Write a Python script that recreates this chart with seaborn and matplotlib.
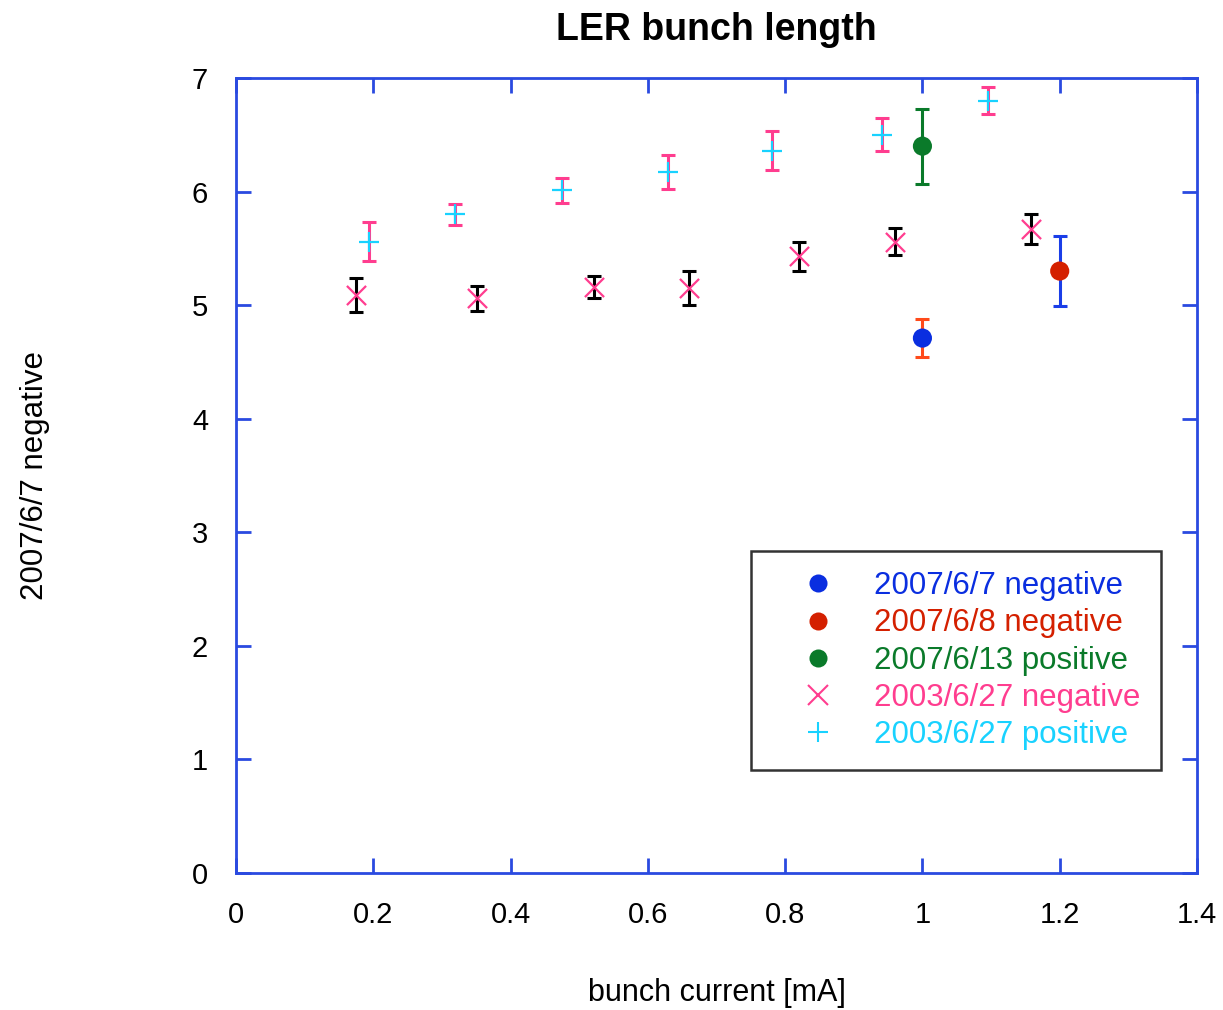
import numpy as np
import pandas as pd
import matplotlib
matplotlib.use("Agg")
import matplotlib.pyplot as plt
import seaborn as sns
from matplotlib.lines import Line2D

# 2007 measurements (single points)
neg_0607_x = [1.0]
neg_0607_y = [4.71]
neg_0607_err = [0.17]

neg_0608_x = [1.2]
neg_0608_y = [5.30]
neg_0608_err = [0.31]

pos_0613_x = [1.0]
pos_0613_y = [6.40]
pos_0613_err = [0.33]

# 2003/6/27 scans
neg_2003_x = [0.175, 0.351, 0.522, 0.660, 0.820, 0.960, 1.158]
neg_2003_y = [5.09, 5.06, 5.16, 5.15, 5.43, 5.56, 5.67]
neg_2003_err = [0.15, 0.11, 0.10, 0.15, 0.13, 0.12, 0.13]

pos_2003_x = [0.194, 0.319, 0.475, 0.630, 0.781, 0.941, 1.096]
pos_2003_y = [5.56, 5.80, 6.01, 6.17, 6.36, 6.50, 6.80]
pos_2003_err = [0.17, 0.09, 0.11, 0.15, 0.17, 0.145, 0.12]

labels = ["2007/6/7 negative", "2007/6/8 negative", "2007/6/13 positive",
          "2003/6/27 negative", "2003/6/27 positive"]
colors = ["#0a2ee0", "#d42000", "#0a7a2a", "#ff3d8f", "#19d2ff"]
err_colors = ["#ff4a1a", "#1a3ee8", "#0a7a2a", "#000000", "#ff3d8f"]
markers = ["o", "o", "o", "x", "+"]
xtick_labels = ["0", "0.2", "0.4", "0.6", "0.8", "1", "1.2", "1.4"]

sets = [
    (neg_0607_x, neg_0607_y, neg_0607_err),
    (neg_0608_x, neg_0608_y, neg_0608_err),
    (pos_0613_x, pos_0613_y, pos_0613_err),
    (neg_2003_x, neg_2003_y, neg_2003_err),
    (pos_2003_x, pos_2003_y, pos_2003_err),
]

frames = []
for lab, (xs, ys, es) in zip(labels, sets):
    frames.append(pd.DataFrame({"current": xs, "length": ys, "err": es, "series": lab}))
df = pd.concat(frames, ignore_index=True)

sns.set_theme(style="white")
plt.rcParams["font.family"] = ["Liberation Sans", "DejaVu Sans"]
plt.rcParams["text.color"] = "black"
plt.rcParams["axes.labelcolor"] = "black"

fig = plt.figure(figsize=(12.23, 10.10), dpi=100)
ax = fig.add_axes([236 / 1223, 137 / 1010, 961 / 1223, 795 / 1010])

sizes = [190, 190, 190, 190, 210]
for lab, col, ecol, mk, sz in zip(labels, colors, err_colors, markers, sizes):
    sub = df[df["series"] == lab]
    ax.errorbar(sub["current"], sub["length"], yerr=sub["err"], fmt="none",
                ecolor=ecol, elinewidth=2.2, capsize=5.2, capthick=2.2, zorder=2)
    kw = dict(edgecolor="none") if mk == "o" else dict(linewidth=1.6)
    sns.scatterplot(data=sub, x="current", y="length", marker=mk, color=col,
                    s=sz, ax=ax, legend=False, zorder=3, **kw)

ax.set_xlim(0, 1.4)
ax.set_ylim(0, 7)
ax.set_xticks(np.arange(0, 1.41, 0.2))
ax.set_xticklabels(xtick_labels)
ax.set_yticks(range(0, 8))

spine_col = "#2a4ae0"
for sp in ax.spines.values():
    sp.set_color(spine_col)
    sp.set_linewidth(2)
ax.tick_params(axis="both", which="both", direction="in", length=11, width=2,
               color=spine_col, bottom=True, left=True, top=True, right=True,
               labelsize=21, labelcolor="black", pad=20)

ax.set_xlabel("bunch current [mA]", fontsize=22)
ax.xaxis.set_label_coords(0.5, -0.151)
ax.xaxis.label.set_va("center")
ax.set_ylabel("2007/6/7 negative", fontsize=22.5)
ax.yaxis.set_label_coords(-0.209, 0.5)
ax.yaxis.label.set_va("center")
ax.set_title("LER bunch length", fontsize=27, fontweight="bold", pad=27)

handles = []
for col, mk in zip(colors, markers):
    if mk == "o":
        handles.append(Line2D([], [], marker="o", color=col, linestyle="none",
                              markersize=13, markeredgecolor="none"))
    else:
        handles.append(Line2D([], [], marker=mk, color=col, linestyle="none",
                              markersize=14, markeredgewidth=1.5))
leg = ax.legend(handles, labels, loc="upper left",
                bbox_to_anchor=(751 / 1223, 1 - 551 / 1010),
                bbox_transform=fig.transFigure,
                fontsize=22.5, frameon=True, fancybox=False, handletextpad=0.3,
                borderpad=0.65, borderaxespad=0, labelspacing=0.23, handlelength=3.0)
leg.get_frame().set_edgecolor("black")
leg.get_frame().set_linewidth(1.8)
for txt, col in zip(leg.get_texts(), colors):
    txt.set_color(col)

fig.savefig("out.png", dpi=100, facecolor="white")
